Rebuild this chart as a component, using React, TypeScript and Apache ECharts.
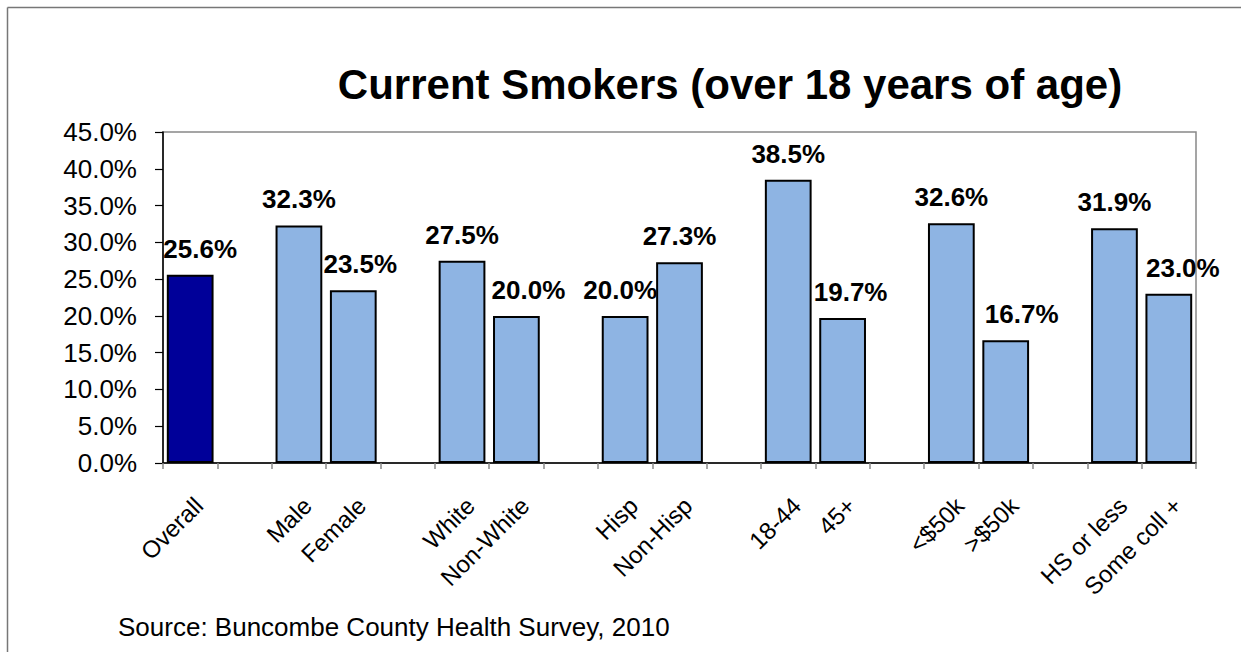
import React, { useEffect, useRef } from "react";
import * as echarts from "echarts";

const categories = [
  "Overall", "", "Male", "Female", "", "White", "Non-White", "", "Hisp", "Non-Hisp",
  "", "18-44", "45+", "", "<$50k", ">$50k", "", "HS or less", "Some coll +",
];
const values: (number | null)[] = [
  25.6, null, 32.3, 23.5, null, 27.5, 20.0, null, 20.0, 27.3,
  null, 38.5, 19.7, null, 32.6, 16.7, null, 31.9, 23.0,
];
// horizontal nudges of the value labels, as placed in the original
const labelNudgeX = [10, 0, 0, 7, 0, 0, 12, 0, -5, 0, 0, 0, 8, 0, 0, 16, 0, 0, 14];
const highlighted = ["Overall"];
const yMin = 0;
const yMax = 45;
const yStep = 5;

const titleText = "Current Smokers (over 18 years of age)";
const sourceText = "Source: Buncombe County Health Survey, 2010";

const FONT = '"Liberation Sans", Arial, Helvetica, sans-serif';

export default function App() {
  const ref = useRef<HTMLDivElement>(null);
  useEffect(() => {
    if (!ref.current) return;
    const chart = echarts.init(ref.current, undefined, { renderer: "svg" });
    const data = values.map((v, i) => ({
      value: v,
      label: { offset: [labelNudgeX[i], 0] },
      itemStyle: {
        color: highlighted.includes(categories[i]) ? "#000099" : "#8EB4E3",
      },
    }));
    chart.setOption({
      animation: false,
      backgroundColor: "#ffffff",
      textStyle: { fontFamily: FONT },
      grid: {
        left: 163,
        right: 45,
        top: 132,
        bottom: 189,
        containLabel: false,
        show: true,
        borderColor: "#888888",
        borderWidth: 1.5,
        backgroundColor: "transparent",
      },
      xAxis: {
        type: "category",
        data: categories,
        axisLine: { show: true, lineStyle: { color: "#000", width: 1.5 } },
        axisTick: { show: true, length: 6, lineStyle: { color: "#888", width: 1.5 } },
        axisLabel: {
          interval: 0,
          rotate: 45,
          margin: 30,
          align: "right",
          verticalAlign: "top",
          fontSize: 24,
          color: "#000",
          fontFamily: FONT,
        },
        splitLine: { show: false },
      },
      yAxis: {
        type: "value",
        min: yMin,
        max: yMax,
        interval: yStep,
        axisLine: { show: true, lineStyle: { color: "#000", width: 1.5 } },
        axisTick: { show: true, length: 8, lineStyle: { color: "#000", width: 1.2 } },
        axisLabel: {
          margin: 26,
          fontSize: 26,
          color: "#000",
          fontFamily: FONT,
          formatter: (v: number) => v.toFixed(1) + "%",
        },
        splitLine: { show: false },
      },
      series: [
        {
          type: "bar",
          data,
          barCategoryGap: "14%",
          itemStyle: { borderColor: "#000", borderWidth: 2 },
          label: {
            show: true,
            position: "top",
            distance: 13,
            fontSize: 26,
            fontWeight: "bold",
            color: "#000",
            fontFamily: FONT,
            formatter: (p: any) => (p.value == null ? "" : Number(p.value).toFixed(1) + "%"),
          },
        },
      ],
      graphic: [
        {
          type: "line",
          shape: { x1: 7.5, y1: 7.5, x2: 1241, y2: 7.5 },
          style: { stroke: "#777", lineWidth: 1.5 },
          silent: true,
        },
        {
          type: "line",
          shape: { x1: 7.5, y1: 7.5, x2: 7.5, y2: 652 },
          style: { stroke: "#777", lineWidth: 1.5 },
          silent: true,
        },
        {
          type: "text",
          x: 730,
          y: 84,
          style: {
            text: titleText,
            font: `bold 42px ${FONT}`,
            fill: "#000",
            align: "center",
            verticalAlign: "middle",
          },
        },
        {
          type: "text",
          x: 118,
          y: 627,
          style: {
            text: sourceText,
            font: `26px ${FONT}`,
            fill: "#000",
            align: "left",
            verticalAlign: "middle",
          },
        },
      ],
    });
    return () => chart.dispose();
  }, []);
  return (
    <div
      ref={ref}
      style={{ position: "absolute", left: 0, top: 0, width: 1241, height: 652 }}
    />
  );
}
